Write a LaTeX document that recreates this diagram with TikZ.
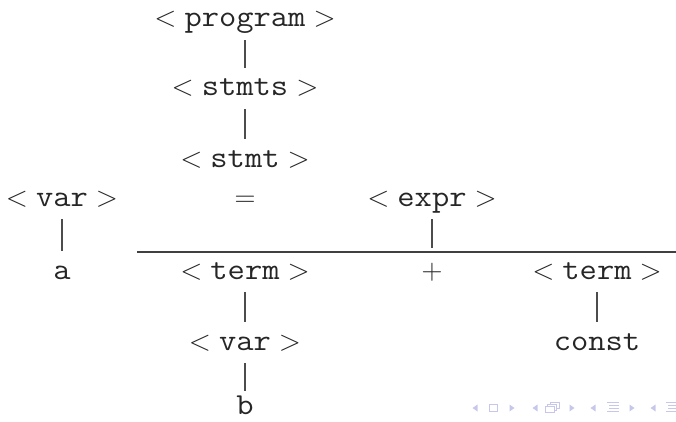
\RequirePackage{fix-cm}
\documentclass[tikz,border=0pt]{standalone}
\usepackage{fontspec}
\usepackage{graphicx}
\definecolor{navcol}{rgb}{0.78,0.78,0.92}
\tikzset{
  tn/.style={anchor=base, inner sep=0pt, text height=21pt, text depth=6pt,
             text=black!85, font=\fontsize{29}{34}\selectfont},
  bar/.style={draw=black!70, line width=1.1pt, shorten <=7pt, shorten >=7pt},
  fracrule/.style={draw=black!75, line width=1.1pt},
  navf/.style={fill=navcol, draw=none},
  navd/.style={draw=navcol, line width=0.9pt}
}
\newcommand\ctt[1]{\scalebox{1.1}[1]{\fontsize{30.5}{34}\selectfont\ttfamily #1}}
\newcommand\nt[1]{$<\mbox{\ctt{#1}}>$}
\begin{document}
\begin{tikzpicture}[x=1pt,y=-1pt]
\useasboundingbox (0,0) rectangle (676,422);
% nodes
\node[tn] (prog)  at (245,27)  {\nt{program}};
\node[tn] (stmts) at (245,96)  {\nt{stmts}};
\node[tn] (stmt)  at (245,167) {\nt{stmt}};
\node[tn] (var1)  at (62,206)  {\nt{var}};
\node[tn] (eq)    at (245,206) {$=$};
\node[tn] (expr)  at (432,206) {\nt{expr}};
\node[tn] (a)     at (62,279)  {\ctt{a}};
\node[tn] (term1) at (245,279) {\nt{term}};
\node[tn] (plus)  at (432,279) {$+$};
\node[tn] (term2) at (597,279) {\nt{term}};
\node[tn] (var2)  at (245,350) {\nt{var}};
\node[tn] (const) at (597,350) {\ctt{const}};
\node[tn, text depth=0pt] (b) at (245,414) {\ctt{b}};
% connectors
\draw[bar] (prog.south) -- (stmts.north);
\draw[bar] (stmts.south) -- (stmt.north);
\draw[bar] (var1.south) -- (a.north);
\draw[bar, shorten >=10pt] (expr.south) -- (plus.north);
\draw[bar] (term1.south) -- (var2.north);
\draw[bar] (term2.south) -- (const.north);
\draw[bar, shorten >=2pt] (var2.south) -- (b.north);
% fraction rule
\coordinate (rl) at (137,252);
\coordinate (rr) at (676,252);
\draw[fracrule] (rl) -- (rr);
% navigation symbols
\foreach \cx in {475,535,593,653}{
  \fill[navf] (\cx+2.5,404.5) -- (\cx-2.5,408) -- (\cx+2.5,411.5) -- cycle;
}
\foreach \cx in {512,572,632}{
  \fill[navf] (\cx-2.5,404.5) -- (\cx+2.5,408) -- (\cx-2.5,411.5) -- cycle;
}
\draw[navd] (489,404.5) rectangle (497,411);
% frame stack icon
\draw[navd, fill=white] (550,402) rectangle (559,408);
\draw[navd, fill=white] (547.5,404) rectangle (556.5,410);
\draw[navd, fill=white] (545,406) rectangle (554,412.5);
% section icons
\foreach \sx in {613,672}{
  \draw[navd] (\sx-6,402.5) -- (\sx+6,402.5);
  \draw[navd] (\sx-4,405.5) -- (\sx+6,405.5);
  \draw[navd] (\sx-4,408.5) -- (\sx+6,408.5);
  \draw[navd] (\sx-6,411.5) -- (\sx+6,411.5);
}
\end{tikzpicture}
\end{document}
